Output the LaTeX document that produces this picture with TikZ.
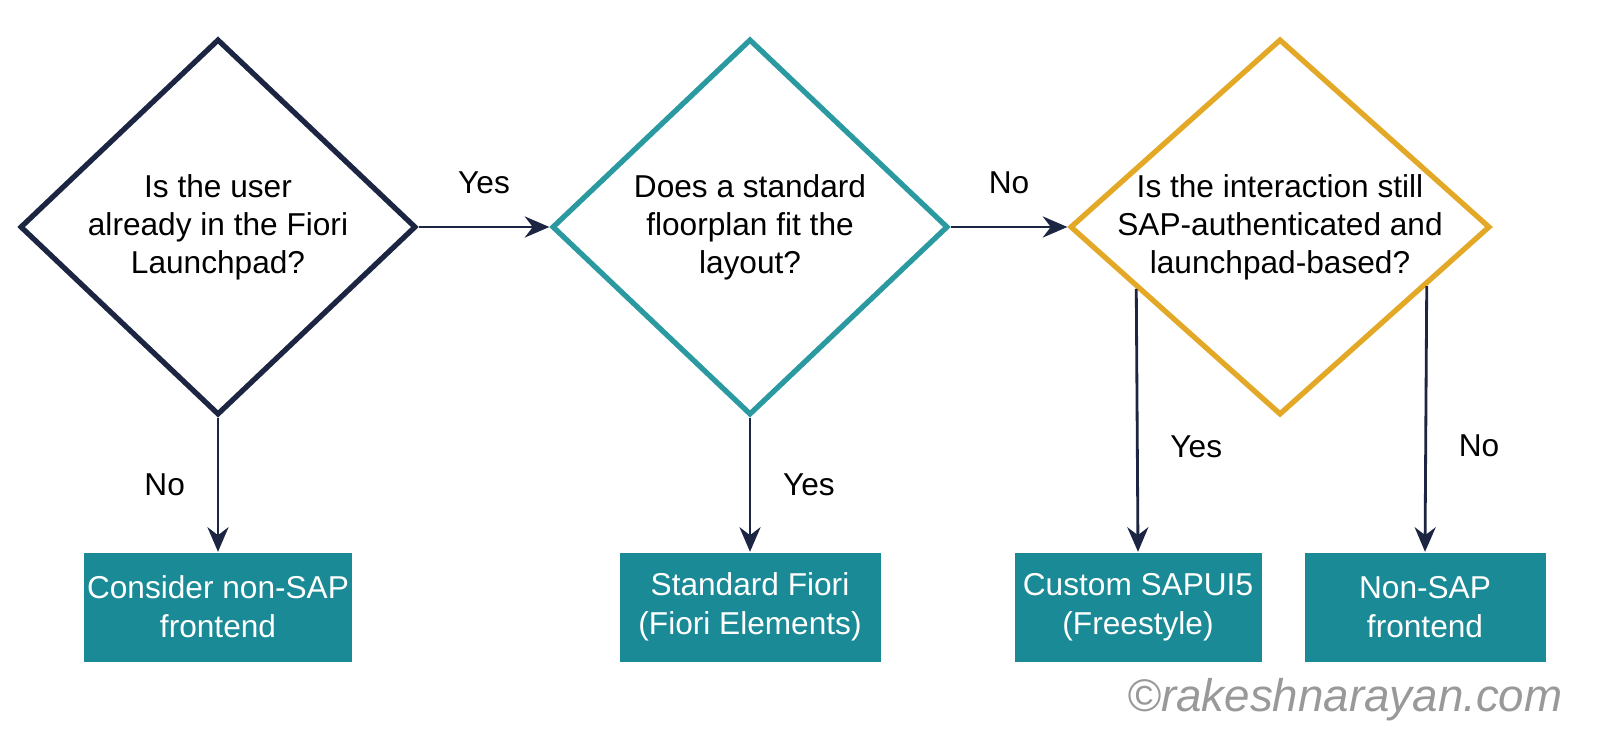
\documentclass[tikz,border=0pt]{standalone}
\usepackage{fontspec}
\setmainfont{Liberation Sans}
\usetikzlibrary{shapes.geometric,calc,arrows.meta}
\definecolor{navy}{HTML}{1C2541}
\definecolor{teal}{HTML}{2A9AA0}
\definecolor{gold}{HTML}{E2A826}
\definecolor{boxfill}{HTML}{1A8A96}
\tikzset{
  decision/.style={diamond, draw=#1, line width=1.5pt, minimum width=3.96cm, minimum height=3.76cm, inner sep=0pt},
  question/.style={align=center, font=\fontsize{9}{10.8}\selectfont, text=black},
  result/.style={rectangle, fill=boxfill, text=white, align=center, minimum height=1.09cm, inner sep=0pt, font=\fontsize{9}{11}\selectfont},
  flow/.style={draw=navy, line width=0.8pt, -{Stealth[length=7pt,width=6pt]}},
  answer/.style={font=\fontsize{9}{11}\selectfont, text=black}
}
\begin{document}
\begin{tikzpicture}
    \useasboundingbox (0,0) rectangle (16,7.39);
    % Decisions
    \node[decision=navy] (launch) at (2.18,5.12) {};
    \node[question] (launchq) at (launch) {Is the user\\ already in the Fiori\\ Launchpad?};
    \node[decision=teal] (floor) at (7.50,5.12) {};
    \node[question] (floorq) at (floor) {Does a standard\\ floorplan fit the\\ layout?};
    \node[decision=gold, minimum width=4.2cm] (auth) at (12.80,5.12) {};
    \node[question] (authq) at (auth) {Is the interaction still\\ SAP-authenticated and\\ launchpad-based?};
    % Results
    \node[result, minimum width=2.68cm] (nonsapc) at (2.18,1.32) {Consider non-SAP\\ frontend};
    \node[result, minimum width=2.61cm] (fiori) at (7.50,1.32) {Standard Fiori\\ (Fiori Elements)};
    \node[result, minimum width=2.47cm] (custom) at (11.38,1.32) {Custom SAPUI5\\ (Freestyle)};
    \node[result, minimum width=2.41cm] (nonsap) at (14.25,1.32) {Non-SAP\\ frontend};
    % Connectors
    \draw[flow] (launch.east) -- node[answer, above=0.2cm] {Yes} (floor.west);
    \draw[flow] (floor.east) -- node[answer, above=0.2cm] {No} (auth.west);
    \draw[flow] (launch.south) -- node[answer, left=0.2cm] {No} (nonsapc.north);
    \draw[flow] (floor.south) -- node[answer, right=0.2cm] {Yes} (fiori.north);
    \coordinate (yesend) at ($(auth.west)!0.324!(auth.south)$);
    \coordinate (noend) at ($(auth.east)!0.31!(auth.south)$);
    \draw[flow] (yesend) -- node[answer, right=0.2cm, pos=0.6] {Yes} (custom.north);
    \draw[flow] (noend) -- node[answer, right=0.2cm, pos=0.6] {No} (nonsap.north);
    % Watermark
    \node[text=gray!80, font=\fontsize{13}{15}\selectfont\itshape] (mark) at (13.45,0.39) {©rakeshnarayan.com};
\end{tikzpicture}
\end{document}
